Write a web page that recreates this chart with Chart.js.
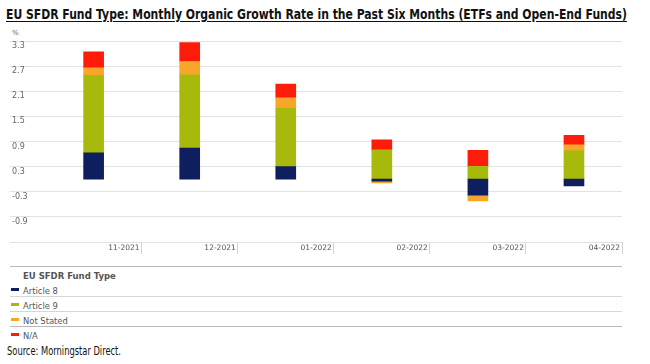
<!DOCTYPE html>
<html>
<head>
<meta charset="utf-8">
<script src="https://cdn.jsdelivr.net/npm/chart.js@4.4.1/dist/chart.umd.min.js"></script>
<style>
  body { margin: 0; background: #fff; }
  #wrap { position: relative; width: 650px; height: 364px; overflow: hidden; background: #fff; }
  #title {
    position: absolute; left: 6px; top: 6px; white-space: nowrap;
    font: bold 14.5px "Liberation Sans Narrow", "DejaVu Sans Condensed", sans-serif;
    color: #111; text-decoration: underline; text-underline-offset: 2px;
    transform-origin: 0 0;
  }
  #unit { position: absolute; left: 12px; top: 29px; font: 7px "DejaVu Sans", sans-serif; color: #666; }
  #chartBox { position: absolute; left: 0; top: 0; width: 650px; height: 264px; }
  #legend { position: absolute; left: 10px; top: 266px; width: 612px; border-top: 1px solid #b8b8b8; }
  .lg-head { height: 15px; display: flex; align-items: center; padding-left: 13px; font: bold 8.5px "DejaVu Sans", sans-serif; color: #555; }
  .lg-head span { position: relative; top: 1px; }
  .lg-row { height: 14px; display: flex; align-items: center; padding-left: 1px; font: 8.4px "DejaVu Sans", sans-serif; color: #555; border-bottom: 1px solid #d6d6d6; }
  .lg-row:last-child { border-bottom: none; }
  .lg-row.sep { border-bottom-color: #b8b8b8; }
  .lg-row .mk { display: inline-block; width: 8px; height: 3px; margin-right: 4px; }
  .lg-row .txt { position: relative; top: 1.5px; }
  #source {
    position: absolute; left: 7px; top: 344px; white-space: nowrap;
    font: 11.5px "Liberation Sans Narrow", "DejaVu Sans Condensed", sans-serif; color: #111;
    transform-origin: 0 0;
  }
</style>
</head>
<body>
<div id="wrap">
  <div id="title">EU SFDR Fund Type: Monthly Organic Growth Rate in the Past Six Months (ETFs and Open-End Funds)</div>
  <div id="unit">%</div>
  <div id="chartBox"><canvas id="growthChart"></canvas></div>
  <div id="legend"></div>
  <div id="source">Source: Morningstar Direct.</div>
</div>
<script>
// values (% organic growth)
const months = ['11-2021', '12-2021', '01-2022', '02-2022', '03-2022', '04-2022'];
const article8 = [0.63, 0.74, 0.30, -0.05, -0.38, -0.16];
const article9 = [1.85, 1.75, 1.39, 0.70, 0.31, 0.68];
const notStated = [0.18, 0.32, 0.25, -0.04, -0.14, 0.14];
const notAvailable = [0.38, 0.45, 0.33, 0.24, 0.38, 0.23];

const seriesNames = ['Article 8', 'Article 9', 'Not Stated', 'N/A'];
const seriesColors = ['#0f1e5e', '#a7b90b', '#f8a62a', '#fd1c0a'];
const yTicks = [-1.5, -0.9, -0.3, 0.3, 0.9, 1.5, 2.1, 2.7, 3.3];

// stretch a text line to the width it has in the picture
function fitWidth(id, target) {
    const el = document.getElementById(id);
    const w = el.getBoundingClientRect().width;
    if (w > 0) el.style.transform = `scaleX(${target / w})`;
}
fitWidth('title', 621);
fitWidth('source', 114);

// legend table
const legendEl = document.getElementById('legend');
legendEl.innerHTML = '<div class="lg-head"><span>EU SFDR Fund Type</span></div>' +
    seriesNames.map((name, i) =>
        `<div class="lg-row${i === 2 ? ' sep' : ''}"><span class="mk" style="background:${seriesColors[i]}"></span><span class="txt">${name}</span></div>`
    ).join('');

const seriesData = [article8, article9, notStated, notAvailable];
const lastGrid = months.length;

const ctx = document.getElementById('growthChart').getContext('2d');
new Chart(ctx, {
    type: 'bar',
    data: {
        labels: months,
        datasets: seriesNames.map((name, i) => ({
            label: name,
            data: seriesData[i],
            backgroundColor: seriesColors[i],
            barThickness: 20,
            borderWidth: 0
        }))
    },
    options: {
        responsive: true,
        maintainAspectRatio: false,
        animation: false,
        layout: { padding: { top: 41, left: 12, right: 28, bottom: 0 } },
        plugins: {
            legend: { display: false },
            tooltip: { enabled: false },
            title: { display: false }
        },
        scales: {
            x: {
                stacked: true,
                offset: true,
                border: { display: false },
                grid: {
                    offset: true,
                    drawOnChartArea: false,
                    drawTicks: true,
                    tickLength: 12,
                    color: (c) => (c.index === 0 || c.index === lastGrid) ? 'rgba(0,0,0,0)' : '#d4d4d4'
                },
                ticks: {
                    align: 'end',
                    labelOffset: 46,
                    padding: -10,
                    maxRotation: 0,
                    autoSkip: false,
                    color: '#555',
                    font: { family: 'DejaVu Sans', size: 7.5 }
                },
                afterFit: (scale) => { scale.height = 22; }
            },
            y: {
                stacked: true,
                min: yTicks[0],
                max: yTicks[yTicks.length - 1],
                border: { display: false },
                grid: { color: '#e2e2e2', drawTicks: true, tickLength: 36 },
                afterBuildTicks: (scale) => { scale.ticks = yTicks.map(v => ({ value: v })); },
                ticks: {
                    crossAlign: 'far',
                    labelOffset: 5,
                    color: '#666',
                    font: { family: 'DejaVu Sans', size: 8 },
                    callback: (v) => v === yTicks[0] ? '' : Number(v).toFixed(1)
                },
                afterFit: (scale) => { scale.width = 33.6; }
            }
        }
    }
});
</script>
</body>
</html>
